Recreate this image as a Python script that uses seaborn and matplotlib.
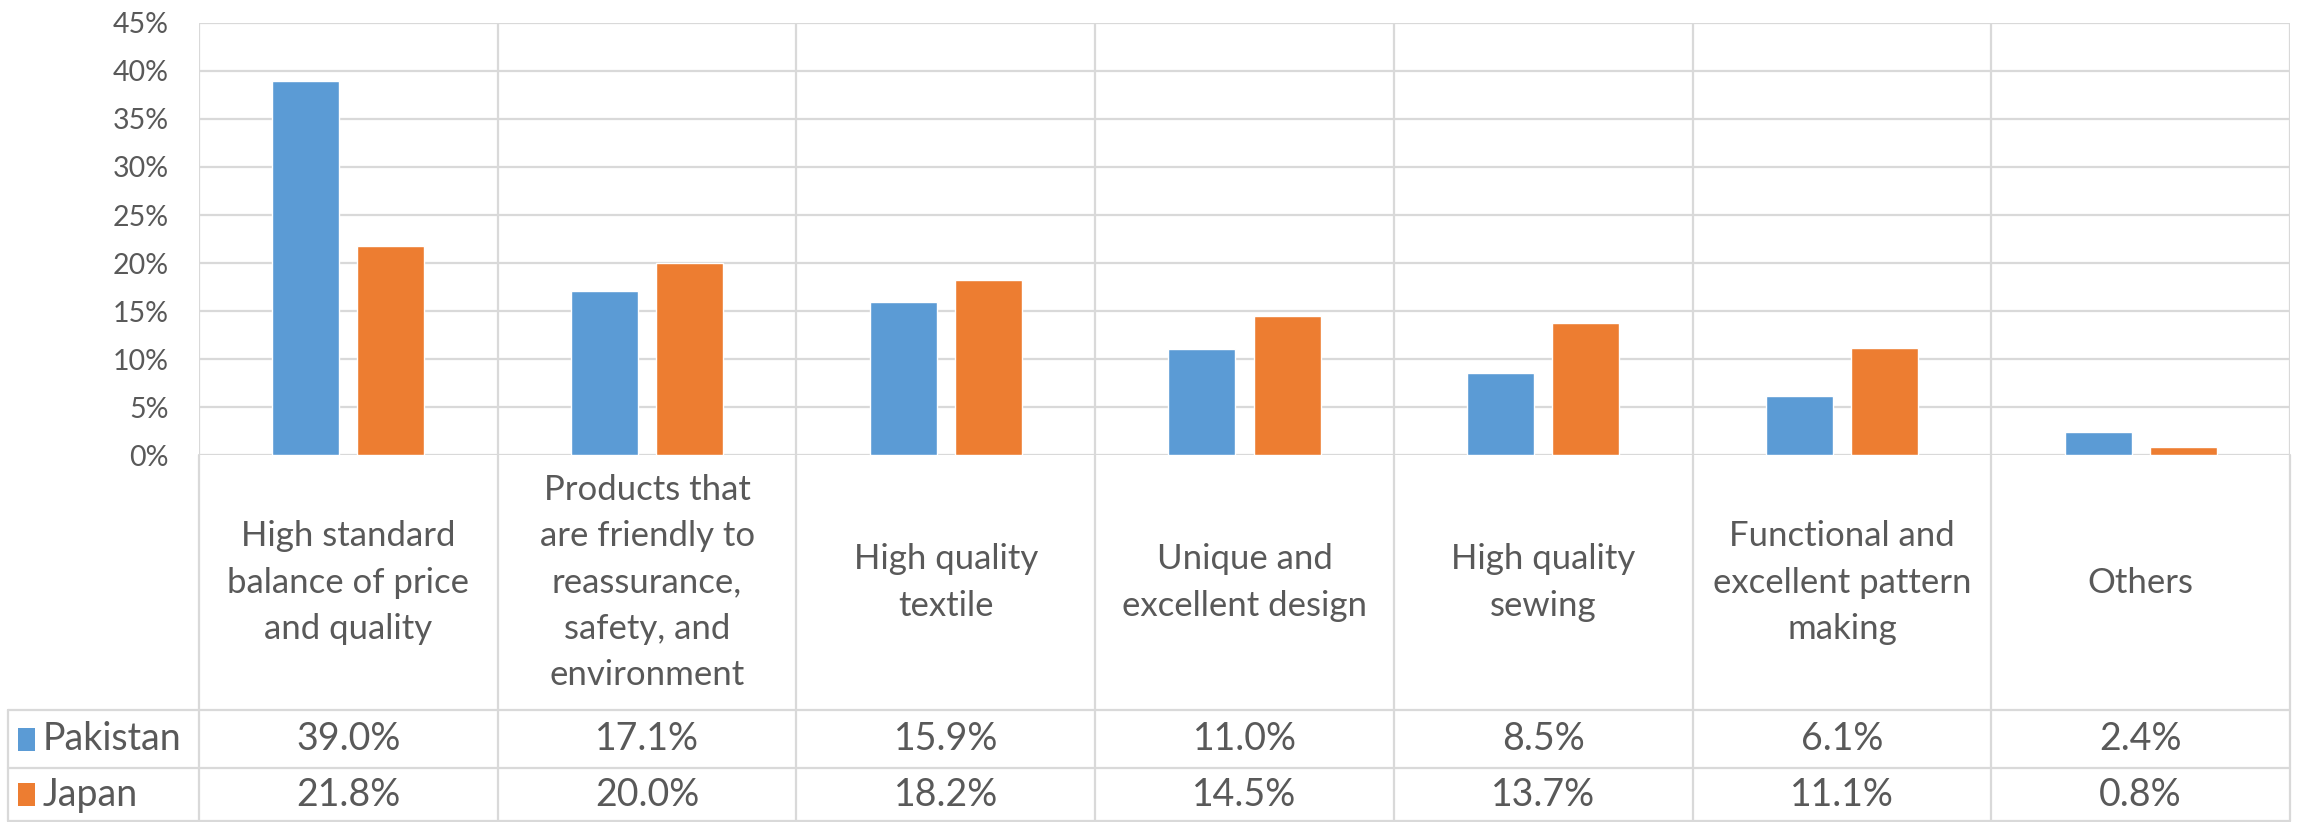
import matplotlib
matplotlib.use("Agg")
import matplotlib.pyplot as plt
from matplotlib.ticker import PercentFormatter, MultipleLocator
from matplotlib.patches import Rectangle
import seaborn as sns
import pandas as pd

# Survey results: reasons for choosing Japanese apparel
categories = [
    "High standard\nbalance of price\nand quality",
    "Products that\nare friendly to\nreassurance,\nsafety, and\nenvironment",
    "High quality\ntextile",
    "Unique and\nexcellent design",
    "High quality\nsewing",
    "Functional and\nexcellent pattern\nmaking",
    "Others",
]
series_names = ["Pakistan", "Japan"]
pakistan = [39.0, 17.1, 15.9, 11.0, 8.5, 6.1, 2.4]
japan = [21.8, 20.0, 18.2, 14.5, 13.7, 11.1, 0.8]
y_ticks = [0, 5, 10, 15, 20, 25, 30, 35, 40, 45]

colors = ["#5B9BD5", "#ED7D31"]
text_color = "#595959"
grid_color = "#D9D9D9"

sns.set_theme(style="white")
plt.rcParams["font.family"] = ["Lato", "DejaVu Sans"]

df = pd.DataFrame({
    "category": list(range(len(categories))) * 2,
    "value": [v / 100 for v in pakistan + japan],
    "country": [series_names[0]] * len(categories) + [series_names[1]] * len(categories),
})

W, H = 2301, 822
fig = plt.figure(figsize=(W / 100, H / 100), dpi=100)

x0, x1 = 199, 2290
y_top, y_base, y_bottom = 23, 455, 822
ax = fig.add_axes([x0 / W, 1 - y_base / H, (x1 - x0) / W, (y_base - y_top) / H])

sns.barplot(data=df, x="category", y="value", hue="country", order=list(range(len(categories))),
            hue_order=series_names, palette=colors, width=0.57, gap=0.214,
            saturation=1, legend=False, ax=ax, zorder=3)

ax.set_xlim(-0.5, len(categories) - 0.5)
ax.set_ylim(0, y_ticks[-1] / 100)
ax.yaxis.set_major_locator(MultipleLocator(0.05))
ax.yaxis.set_major_formatter(PercentFormatter(1, decimals=0))
ax.tick_params(axis="y", length=0, pad=22, labelsize=20.5, labelcolor=text_color)
ax.tick_params(axis="x", length=0, labelbottom=False)
ax.set_xlabel("")
ax.set_ylabel("")
for s in ax.spines.values():
    s.set_visible(False)
for t in y_ticks:
    ax.axhline(t / 100, color=grid_color, lw=1.6, zorder=1)
for k in range(len(categories) + 1):
    ax.axvline(k - 0.5, color=grid_color, lw=1.6, zorder=1)

# Data table below the plot, sharing the category positions
tab = fig.add_axes([x0 / W, 0, (x1 - x0) / W, (y_bottom - y_base) / H])
tab.set_xlim(-0.5, len(categories) - 0.5)
tab.set_ylim(y_bottom - y_base, 0)
tab.axis("off")

px = (x1 - x0) / len(categories)
def to_x(p):
    return -0.5 + (p - x0) / px

band_end, row1_end, row2_end = 255, 313, 366
left = to_x(8)
line_kw = dict(color=grid_color, lw=1.6, clip_on=False)
for y in (band_end, row1_end, row2_end):
    tab.plot([left, len(categories) - 0.5], [y, y], **line_kw)
tab.plot([left, left], [band_end, row2_end], **line_kw)
for k in range(len(categories) + 1):
    tab.plot([k - 0.5, k - 0.5], [0, row2_end], **line_kw)

for i, name in enumerate(categories):
    tab.text(i, band_end / 2, name, ha="center", va="center", multialignment="center",
             fontsize=25, color=text_color, linespacing=1.54)

rows = [(pakistan, band_end, row1_end), (japan, row1_end, row2_end)]
for (vals, ya, yb), name, col in zip(rows, series_names, colors):
    yc = (ya + yb) / 2
    for i, v in enumerate(vals):
        tab.text(i, yc, f"{v:.1f}%", ha="center", va="center", fontsize=27, color=text_color)
    tab.add_patch(Rectangle((to_x(18), yc - 11.5), to_x(35) - to_x(18), 23,
                            facecolor=col, edgecolor="none", clip_on=False))
    tab.text(to_x(43), yc, name, ha="left", va="center", fontsize=27, color=text_color)

fig.savefig("out.png", dpi=100)
